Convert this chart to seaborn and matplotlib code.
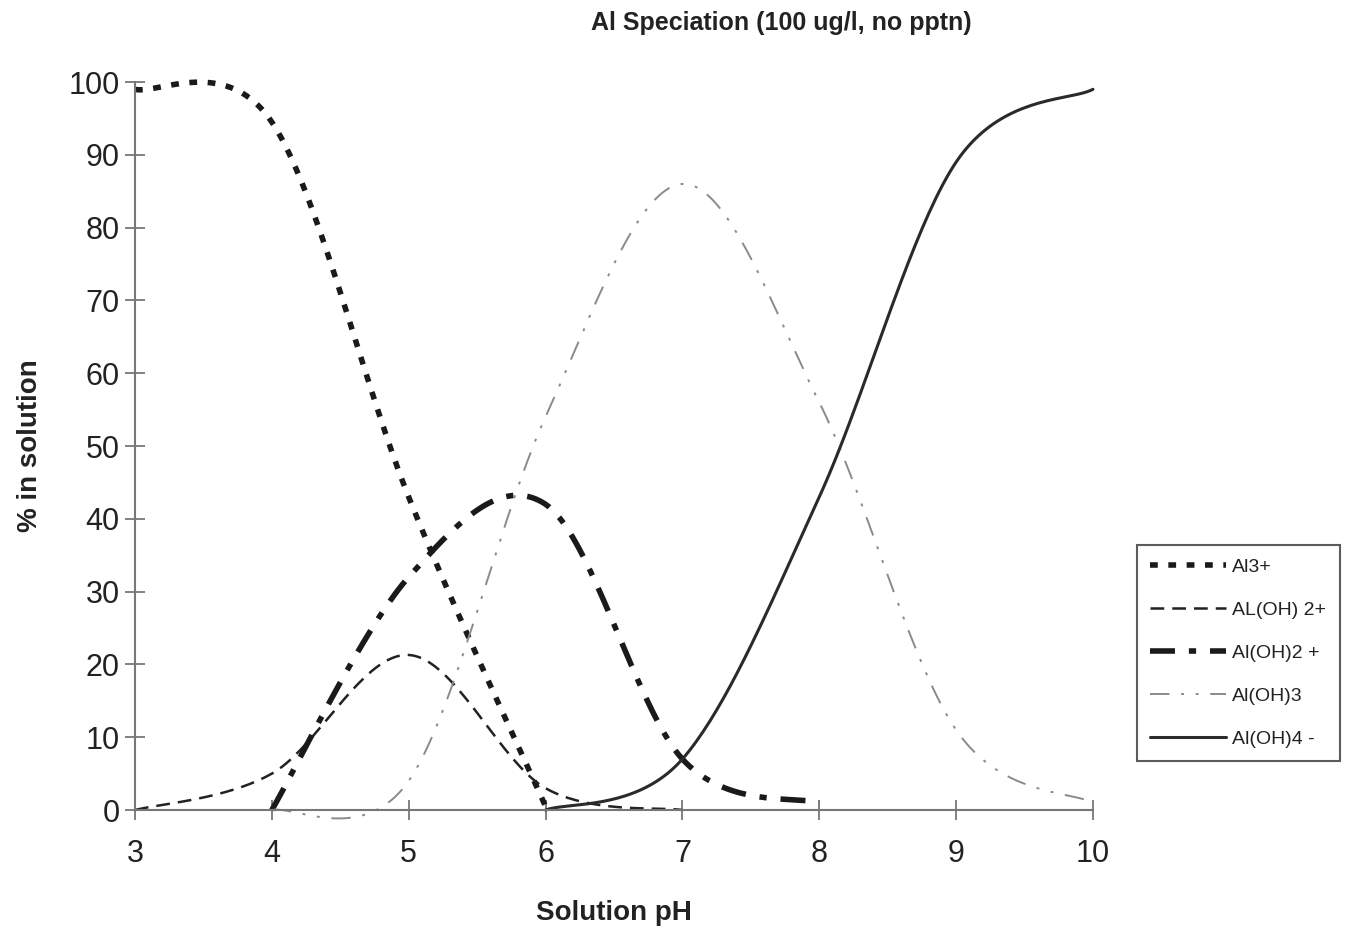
import numpy as np
import pandas as pd
import matplotlib
matplotlib.use("Agg")
import matplotlib.pyplot as plt
import seaborn as sns

# values at each whole pH unit
ph_al3 = [3, 4, 5, 6]
al3 = [99, 94.5, 43, 0.5]

ph_aloh = [3, 4, 5, 6, 7]
aloh = [0, 5, 21.3, 3, 0]

ph_aloh2 = [4, 5, 6, 7, 8]
aloh2 = [0, 32, 42, 7, 1]

ph_aloh3 = [4, 5, 6, 7, 8, 9, 10]
aloh3 = [0, 4, 54, 86, 56, 11, 1]

ph_aloh4 = [6, 7, 8, 9, 10]
aloh4 = [0, 7, 43, 89, 99]

labels = ["Al3+", "AL(OH) 2+", "Al(OH)2 +", "Al(OH)3", "Al(OH)4 -"]


def smooth(xs, ys, n=40):
    # excel style smoothed line (catmull-rom through the points)
    xs = np.asarray(xs, float)
    ys = np.asarray(ys, float)
    px = np.concatenate([[xs[0]], xs, [xs[-1]]])
    py = np.concatenate([[ys[0]], ys, [ys[-1]]])
    out_x, out_y = [], []
    for i in range(1, len(px) - 2):
        mx0 = (px[i + 1] - px[i - 1]) / 2
        mx1 = (px[i + 2] - px[i]) / 2
        my0 = (py[i + 1] - py[i - 1]) / 2
        my1 = (py[i + 2] - py[i]) / 2
        t = np.linspace(0, 1, n, endpoint=(i == len(px) - 3))
        h00 = 2 * t**3 - 3 * t**2 + 1
        h10 = t**3 - 2 * t**2 + t
        h01 = -2 * t**3 + 3 * t**2
        h11 = t**3 - t**2
        out_x.append(h00 * px[i] + h10 * mx0 + h01 * px[i + 1] + h11 * mx1)
        out_y.append(h00 * py[i] + h10 * my0 + h01 * py[i + 1] + h11 * my1)
    return np.concatenate(out_x), np.concatenate(out_y)


sns.set_style("ticks")
plt.rcParams['font.family'] = ['Liberation Sans', 'DejaVu Sans']

fig = plt.figure(figsize=(13.47, 9.30), dpi=100)
ax = fig.add_axes([0.1002, 0.129, 0.7112, 0.7828])

series = [
    (ph_al3, al3, dict(color="#1a1a1a", linewidth=4, linestyle=(0, (1.4, 1.9)))),
    (ph_aloh, aloh, dict(color="#222222", linewidth=1.8, linestyle=(0, (5.5, 3.2)))),
    (ph_aloh2, aloh2, dict(color="#1a1a1a", linewidth=4, linestyle=(0, (4.5, 2.5, 1.3, 2.5)))),
    (ph_aloh3, aloh3, dict(color="#8a8a8a", linewidth=1.4, linestyle=(0, (10, 6, 1.5, 6, 1.5, 6)))),
    (ph_aloh4, aloh4, dict(color="#2a2a2a", linewidth=2.2, linestyle="-")),
]

for (xs, ys, kw), lab in zip(series, labels):
    sx, sy = smooth(xs, ys)
    df = pd.DataFrame({"pH": sx, "pct": sy})
    sns.lineplot(data=df, x="pH", y="pct", ax=ax, sort=False, estimator=None,
                 label=lab, clip_on=False, **kw)

ax.set_xlim(3, 10)
ax.set_ylim(0, 100)
ax.set_xticks(range(3, 11))
ax.set_yticks(range(0, 101, 10))
ax.tick_params(direction="inout", length=14, width=1.3, color="#777777",
               labelsize=22, labelcolor="#222222")
ax.tick_params(axis="x", pad=14)
ax.tick_params(axis="y", pad=4)
for s in ["top", "right"]:
    ax.spines[s].set_visible(False)
for s in ["left", "bottom"]:
    ax.spines[s].set_color("#777777")
    ax.spines[s].set_linewidth(1.5)

ax.set_xlabel("Solution pH", fontsize=20, fontweight="bold", color="#222222", labelpad=22)
ax.set_ylabel("% in solution", fontsize=20, fontweight="bold", color="#222222", labelpad=18)
fig.text(0.58, 0.975, "Al Speciation (100 ug/l, no pptn)", ha="center", va="center",
         fontsize=18, fontweight="bold", color="#222222")

leg = ax.legend(loc="upper left", bbox_to_anchor=(0.844, 0.414), bbox_transform=fig.transFigure,
                fontsize=14, frameon=True, fancybox=False, handlelength=3.9,
                handletextpad=0.3, labelspacing=1.3, borderpad=0.7, borderaxespad=0)
leg.get_frame().set_edgecolor("#333333")
leg.get_frame().set_linewidth(1.5)
for t in leg.get_texts():
    t.set_color("#222222")

plt.savefig("out.png", dpi=100)
